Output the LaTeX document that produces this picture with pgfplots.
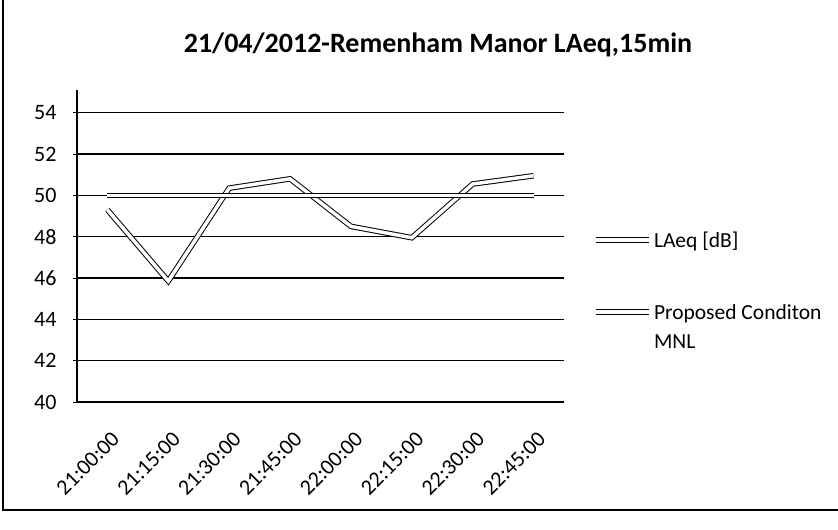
\documentclass[border=0pt]{standalone}
\usepackage{pgfplots}
\pgfplotsset{compat=1.18}
\usepackage{fontspec}
\setmainfont{Carlito}
\pgfplotsset{
  normleg/.style={legend image code/.code={\draw[##1] (0pt,0pt) -- (53pt,0pt);}},
  shiftleg/.style={legend image code/.code={\draw[##1] (0pt,15pt) -- (53pt,15pt);}},
}
\begin{document}
\begin{tikzpicture}[x=1pt,y=1pt]
\useasboundingbox (0,0) rectangle (838,530);
\draw[line width=1.2pt] (3,530) -- (3,20) -- (838,20);
\node[font=\fontsize{28}{32}\selectfont\bfseries] at (438,485) {21/04/2012-Remenham Manor LAeq,15min};
\begin{axis}[
  at={(77pt,128pt)}, anchor=south west,
  scale only axis, width=487pt, height=312pt,
  xmin=-0.5, xmax=7.5, ymin=40, ymax=55.1,
  axis lines*=left,
  axis line style={black, line width=1.2pt},
  ytick={40,42,...,54},
  ymajorgrids, grid style={black, line width=1.1pt},
  xtick={0,...,7},
  xticklabels={21:00:00,21:15:00,21:30:00,21:45:00,22:00:00,22:15:00,22:30:00,22:45:00},
  x tick style={draw=none},
  extra x ticks={-0.5,0.5,...,7.5},
  extra x tick labels={},
  extra x tick style={grid=none, tick style={black, line width=0.8pt, draw=black}},
  tick align=outside, major tick length=4pt,
  y tick style={black, line width=0.8pt},
  /pgf/number format/assume math mode=true,
  tick label style={font=\fontsize{22}{26}\selectfont},
  xticklabel style={xshift=3pt, yshift=-24pt, rotate=45, anchor=north east, inner sep=0pt},
  yticklabel style={xshift=-13pt},
  legend style={draw=none, fill=none, at={(1.054,0.56)}, anchor=north west,
    font=\fontsize{21.5}{29}\selectfont, row sep=52pt,
    cells={anchor=west, align=left}},
  legend cell align=left,
]
\addplot[black, line width=1pt, double=white, double distance=3.5pt, line join=miter, normleg]
  coordinates {(0,49.3) (1,45.85) (2,50.35) (3,50.8) (4,48.5) (5,47.95) (6,50.55) (7,50.95)};
\addlegendentry{LAeq [dB]}
\addplot[black, line width=1pt, double=white, double distance=3.5pt, shiftleg]
  coordinates {(0,50) (1,50) (2,50) (3,50) (4,50) (5,50) (6,50) (7,50)};
\addlegendentry{Proposed Conditon\\MNL}
\end{axis}
\end{tikzpicture}
\end{document}
